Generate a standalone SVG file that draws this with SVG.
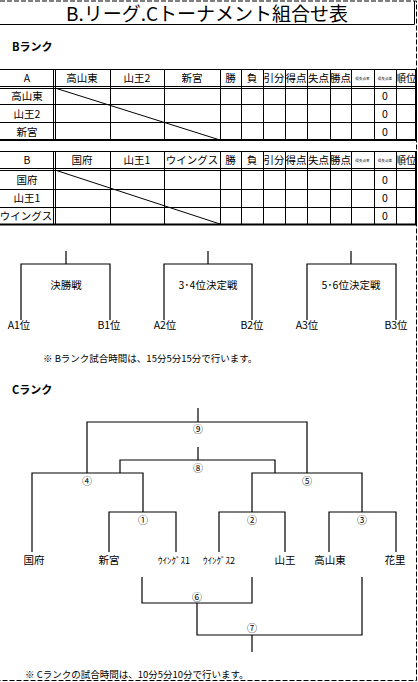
<svg xmlns="http://www.w3.org/2000/svg" width="418" height="682" viewBox="0 0 418 682">
<style>
text{font-family:"Noto Sans CJK JP","Noto Sans",sans-serif;fill:#000}
.t{font-size:10.5px;text-anchor:middle}
.s{font-size:3.6px;text-anchor:middle}
.n{font-size:10px;text-anchor:middle}
.l{stroke:#000;stroke-width:1;fill:none}
.k{stroke:#000;stroke-width:2;fill:none}
.b{stroke:#000;stroke-width:1.2;fill:none}
</style>
<rect width="418" height="682" fill="#fff"/>
<g id="page">
<path d="M0 1H416.5V680.5H0" fill="none" stroke="#000" stroke-width="1" stroke-dasharray="5,2"/>
<path class="l" d="M0 24.5H414.5M414.5 1V24.5"/>
<text x="207" y="21" style="font-size:19px;text-anchor:middle">B.リーグ.Cトーナメント組合せ表</text>
<text x="12" y="51" style="font-size:11px;font-weight:bold">Bランク</text>
<text x="12" y="394" style="font-size:11px;font-weight:bold">Cランク</text>
<text x="43" y="362" style="font-size:9.5px">※ Bランク試合時間は、15分5分15分で行います。</text>
<text x="25" y="678" style="font-size:9.5px">※ Cランクの試合時間は、10分5分10分で行います。</text>
</g>
<g id="tableA">
<path class="l" d="M0 69.5H416M0 86.5H416M0 88.5H416M0 104.5H416M0 122.5H416"/>
<path class="k" d="M0 140H417M416 69V141"/>
<path class="l" d="M53.5 69V140M55.5 69V140M110.5 69V140M164.5 69V140M220.5 69V140M241.5 69V140M263.5 69V140M285.5 69V140M307.5 69V140M330.5 69V140M351.5 69V140M374.5 69V140M396.5 69V140"/>
<path class="l" d="M55 88L220 140"/>
<text class="t" x="27" y="82">A</text>
<text class="t" x="82" y="82">高山東</text>
<text class="t" x="137" y="82">山王2</text>
<text class="t" x="192" y="82">新宮</text>
<text class="t" x="230.5" y="82">勝</text>
<text class="t" x="252" y="82">負</text>
<text class="t" x="274" y="82">引分</text>
<text class="t" x="296" y="82">得点</text>
<text class="t" x="318.5" y="82">失点</text>
<text class="t" x="340.5" y="82">勝点</text>
<text class="s" x="362.5" y="80">得失点率</text>
<text class="s" x="385" y="80">得失点差</text>
<text class="t" x="406" y="82">順位</text>
<text class="t" x="27" y="100">高山東</text>
<text class="t" x="27" y="117.5">山王2</text>
<text class="t" x="27" y="135.5">新宮</text>
<text class="t" x="385" y="100">0</text>
<text class="t" x="385" y="117.5">0</text>
<text class="t" x="385" y="135.5">0</text>
</g>
<g id="tableB">
<path class="l" d="M0 151.5H416M0 168.5H416M0 170.5H416M0 189.5H416M0 207.5H416"/>
<path class="k" d="M0 224.5H417M416 151V225"/>
<path class="l" d="M53.5 151V224M55.5 151V224M110.5 151V224M164.5 151V224M220.5 151V224M241.5 151V224M263.5 151V224M285.5 151V224M307.5 151V224M330.5 151V224M351.5 151V224M374.5 151V224M396.5 151V224"/>
<path class="l" d="M55 170L220 224"/>
<text class="t" x="27" y="164">B</text>
<text class="t" x="82" y="164">国府</text>
<text class="t" x="137" y="164">山王1</text>
<text class="t" x="192" y="164">ウイングス</text>
<text class="t" x="230.5" y="164">勝</text>
<text class="t" x="252" y="164">負</text>
<text class="t" x="274" y="164">引分</text>
<text class="t" x="296" y="164">得点</text>
<text class="t" x="318.5" y="164">失点</text>
<text class="t" x="340.5" y="164">勝点</text>
<text class="s" x="362.5" y="162">得失点率</text>
<text class="s" x="385" y="162">得失点差</text>
<text class="t" x="406" y="164">順位</text>
<text class="t" x="27" y="184">国府</text>
<text class="t" x="27" y="202">山王1</text>
<text class="t" x="26" y="220">ウイングス</text>
<text class="t" x="385" y="184">0</text>
<text class="t" x="385" y="202">0</text>
<text class="t" x="385" y="220">0</text>
</g>
<g id="connectors">
<path class="b" d="M66 251V264M21 320V264H110V320"/>
<path class="b" d="M208 251V264M164 320V264H252V320"/>
<path class="b" d="M351 251V264M307 320V264H396V320"/>
<path class="b" d="M198 408V422M87 473V422H307V473"/>
<path class="b" d="M198 447V460M120 473V460H275V473"/>
<path class="b" d="M32 552V473H143V512"/>
<path class="b" d="M252 512V473H362V512"/>
<path class="b" d="M109 552V512H176V552"/>
<path class="b" d="M219 552V512H285V552"/>
<path class="b" d="M329 552V512H396V552"/>
<path class="b" d="M142 577V603H252V577"/>
<path class="b" d="M197 603V635H362V577M252 635V652"/>
</g>
<g id="bracketB">
<text class="t" x="66" y="289">決勝戦</text>
<text class="t" x="208" y="289">3･4位決定戦</text>
<text class="t" x="351" y="289">5･6位決定戦</text>
<text class="t" x="19" y="329">A1位</text>
<text class="t" x="109" y="329">B1位</text>
<text class="t" x="165" y="329">A2位</text>
<text class="t" x="252" y="329">B2位</text>
<text class="t" x="307" y="329">A3位</text>
<text class="t" x="396" y="329">B3位</text>
</g>
<g id="bracketC">
<text class="n" x="198" y="433">⑨</text>
<text class="n" x="198" y="472">⑧</text>
<text class="n" x="87" y="485">④</text>
<text class="n" x="307" y="485">⑤</text>
<text class="n" x="143" y="524">①</text>
<text class="n" x="252" y="524">②</text>
<text class="n" x="362" y="524">③</text>
<text class="n" x="197" y="601">⑥</text>
<text class="n" x="252" y="632">⑦</text>
<text class="t" x="34" y="564">国府</text>
<text class="t" x="109" y="564">新宮</text>
<text class="t" x="174" y="564" style="font-size:9px">ｳｲﾝｸﾞｽ1</text>
<text class="t" x="219" y="564" style="font-size:9px">ｳｲﾝｸﾞｽ2</text>
<text class="t" x="285" y="564">山王</text>
<text class="t" x="330" y="564">高山東</text>
<text class="t" x="395" y="564">花里</text>
</g>
</svg>
